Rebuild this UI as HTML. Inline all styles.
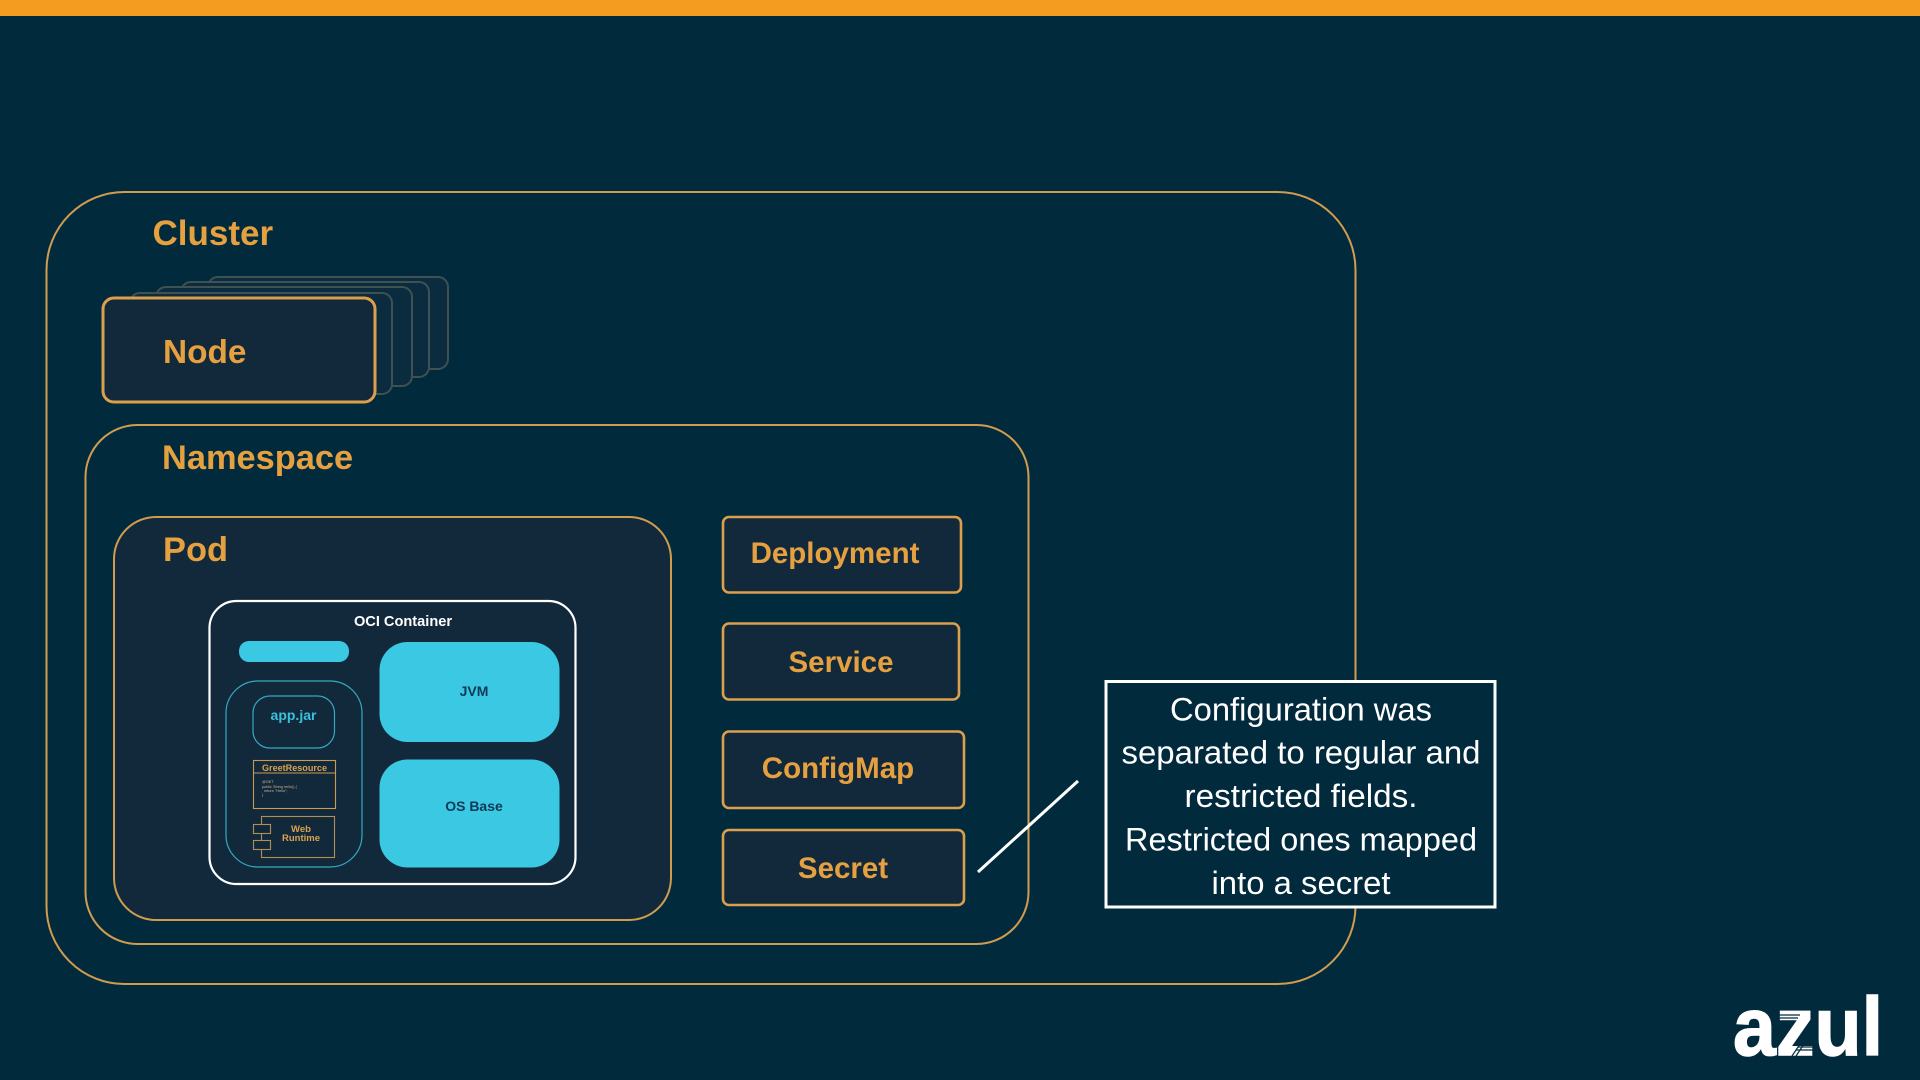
<!DOCTYPE html>
<html><head><meta charset="utf-8"><style>
html,body{margin:0;padding:0;background:#022a3d;width:1920px;height:1080px;overflow:hidden}
svg{display:block}
text{font-family:"Liberation Sans",sans-serif}
.l{font-weight:700;fill:#e5a040;font-size:34.4px}
.b{font-weight:700;fill:#e5a040;font-size:29.5px;text-anchor:middle}
.o{fill:none;stroke:#d29c4f;stroke-width:2}
.k{fill:#12293c;stroke:#dc9f4c;stroke-width:2.6}
.c{font-size:32px;fill:#fff;text-anchor:middle}
.n{fill:#0b2b3e;stroke:#3f5152;stroke-width:2}
</style></head><body>
<svg width="1920" height="1080" viewBox="0 0 1920 1080" xmlns="http://www.w3.org/2000/svg">
<rect width="1920" height="1080" fill="#022a3d"/>
<rect width="1920" height="16" fill="#f39c1f"/>
<rect class="o" x="46.5" y="192" width="1309" height="792" rx="78"/>
<text class="l" x="152.5" y="245" style="font-size:35px">Cluster</text>
<rect class="n" x="208" y="277" width="240" height="92" rx="10"/>
<rect class="n" x="181" y="282" width="248" height="95" rx="10"/>
<rect class="n" x="156" y="287" width="256" height="99" rx="10"/>
<rect class="n" x="130" y="293" width="262" height="101" rx="10"/>
<rect x="103" y="298" width="272" height="104" rx="11" fill="#12293c" stroke="#dc9f4c" stroke-width="3"/>
<text class="l" x="163" y="363" style="font-size:33.4px">Node</text>
<rect class="o" x="85.5" y="425" width="943" height="519" rx="52"/>
<text class="l" x="162" y="469">Namespace</text>
<rect x="114" y="517" width="557" height="403" rx="42" fill="#12293c" stroke="#d29c4f" stroke-width="2"/>
<text class="l" x="163" y="561">Pod</text>
<rect class="k" x="723" y="517" width="238" height="75.5" rx="6"/>
<text class="b" x="835" y="563">Deployment</text>
<rect class="k" x="723" y="623.5" width="236" height="76" rx="6"/>
<text class="b" x="841" y="672">Service</text>
<rect class="k" x="723" y="731.5" width="241" height="76.5" rx="6"/>
<text class="b" x="838" y="778">ConfigMap</text>
<rect class="k" x="723" y="830" width="241" height="75" rx="6"/>
<text class="b" x="843" y="878">Secret</text>

<rect x="209.5" y="601" width="366" height="283" rx="27" fill="#12293c" stroke="#fff" stroke-width="2.2"/>
<text x="403" y="626" text-anchor="middle" font-size="14.6" font-weight="700" fill="#fff">OCI Container</text>
<rect x="239" y="641" width="110" height="21" rx="10" fill="#3bc8e3"/>
<rect x="379.5" y="642" width="180" height="100" rx="28" fill="#3bc8e3"/>
<text x="474" y="696" text-anchor="middle" font-size="14" font-weight="700" fill="#0e3a55">JVM</text>
<rect x="379.5" y="759.5" width="180" height="108" rx="28" fill="#3bc8e3"/>
<text x="474" y="811" text-anchor="middle" font-size="14" font-weight="700" fill="#0e3a55">OS Base</text>
<rect x="226" y="681" width="136" height="186" rx="32" fill="none" stroke="#35a9c0" stroke-width="1.2"/>
<rect x="253" y="696" width="81.5" height="52" rx="17" fill="none" stroke="#35a9c0" stroke-width="1.2"/>
<text x="293.5" y="720" text-anchor="middle" font-size="14" font-weight="700" fill="#3bc0dc">app.jar</text>
<rect x="253.5" y="760.5" width="82" height="48" fill="none" stroke="#c99a50" stroke-width="1.1"/>
<line x1="253.5" y1="773" x2="335.5" y2="773" stroke="#c99a50" stroke-width="1.1"/>
<text x="294.5" y="771" text-anchor="middle" font-size="9.5" font-weight="700" fill="#d9a24e" textLength="65" lengthAdjust="spacingAndGlyphs">GreetResource</text>
<g font-size="3.8" fill="#c9b48c"><text x="262" y="783">@GET</text><text x="262" y="788">public String hello() {</text><text x="264" y="792">return "Hello";</text><text x="262" y="796">}</text></g>
<rect x="261.5" y="816.5" width="73" height="41" fill="none" stroke="#b08f56" stroke-width="1.1"/>
<rect x="253.5" y="824.5" width="17" height="9" fill="#12293c" stroke="#b08f56" stroke-width="1.1"/>
<rect x="253.5" y="840.5" width="17" height="9" fill="#12293c" stroke="#b08f56" stroke-width="1.1"/>
<text x="301" y="832" text-anchor="middle" font-size="9.5" font-weight="700" fill="#d9a24e">Web</text>
<text x="301" y="841" text-anchor="middle" font-size="9.5" font-weight="700" fill="#d9a24e">Runtime</text>

<line x1="978" y1="872" x2="1078" y2="781" stroke="#fff" stroke-width="3"/>
<rect x="1106" y="681.5" width="389" height="225.5" fill="#022a3d" stroke="#fff" stroke-width="3"/>
<g>
<text class="c" x="1301" y="720.5" textLength="262" lengthAdjust="spacingAndGlyphs">Configuration was</text>
<text class="c" x="1301" y="763.5" textLength="359" lengthAdjust="spacingAndGlyphs">separated to regular and</text>
<text class="c" x="1301" y="807" textLength="233" lengthAdjust="spacingAndGlyphs">restricted fields.</text>
<text class="c" x="1301" y="850.5" textLength="352" lengthAdjust="spacingAndGlyphs">Restricted ones mapped</text>
<text class="c" x="1301" y="894" textLength="179" lengthAdjust="spacingAndGlyphs">into a secret</text>
</g>

<text x="1733" y="1055" font-size="83" font-weight="700" fill="#fff" stroke="#fff" stroke-width="1.4" textLength="150" lengthAdjust="spacingAndGlyphs">azul</text>
<g stroke="#022a3d" stroke-width="1.2">
<line x1="1779" y1="1015" x2="1800" y2="1015"/><line x1="1779" y1="1018" x2="1798" y2="1018"/><line x1="1779" y1="1021" x2="1795" y2="1021"/>
<line x1="1796" y1="1050" x2="1817" y2="1050"/><line x1="1798" y1="1047" x2="1817" y2="1047"/>
<line x1="1792" y1="1056" x2="1812" y2="1026"/><line x1="1796" y1="1056" x2="1814" y2="1029"/>
</g>
</svg>
</body></html>
